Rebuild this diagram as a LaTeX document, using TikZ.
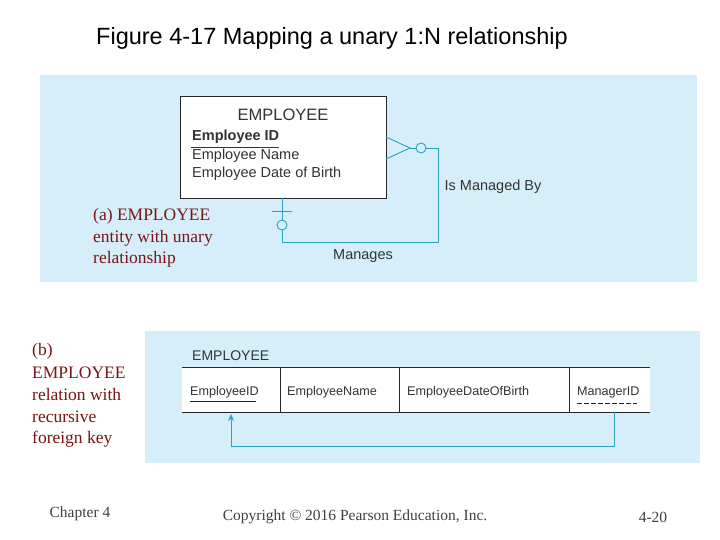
\documentclass[tikz,border=0pt]{standalone}
\usepackage{fontspec}
\usetikzlibrary{arrows.meta}
\setmainfont{Liberation Serif}
\setsansfont{Liberation Sans}
\begin{document}
\begin{tikzpicture}[x=1pt,y=-1pt,
  conn/.style={draw=teal2,line width=0.9pt},
  attr/.style={font=\sffamily\fontsize{14.5}{16}\selectfont,text=black!80,anchor=west,inner sep=0},
  tab/.style={font=\sffamily\fontsize{12.6}{14}\selectfont,text=black!80,anchor=west,inner sep=0},
  captxt/.style={font=\fontsize{17.5}{20}\selectfont,text=capred,anchor=west,inner sep=0},
  foot/.style={font=\fontsize{15.5}{18}\selectfont,text=black!75,inner sep=0}]
\definecolor{panelblue}{HTML}{D6EEF9}
\definecolor{teal2}{HTML}{2BA3BF}
\definecolor{capred}{HTML}{7A1515}
\useasboundingbox (0,0) rectangle (720,540);
\fill[white] (0,0) rectangle (720,540);
\node[font=\sffamily\fontsize{23.5}{26}\selectfont] (title) at (332,38) {Figure 4-17 Mapping a unary 1:N relationship};
% panel a
\fill[panelblue] (40,75) rectangle (697,282);
\node[draw=black!85,fill=white,line width=0.8pt,minimum width=206pt,minimum height=102pt,inner sep=0,anchor=north west] (ent) at (180,96) {};
\node[font=\sffamily\fontsize{16.5}{18}\selectfont,text=black!80] (et) at (283,115) {EMPLOYEE};
\node[attr,font=\sffamily\bfseries\fontsize{14.5}{16}\selectfont] (a1) at (192,137) {Employee ID};
\draw[black!80,line width=0.8pt] (191,147) -- (a1.south east|-0,147);
\node[attr] (a2) at (192,156) {Employee Name};
\node[attr] (a3) at (192,174) {Employee Date of Birth};
\coordinate (cf) at (410,148);
\draw[conn] (386,137) -- (cf) -- (386,159);
\draw[conn] (cf) -- (416,148);
\draw[conn] (421,148) circle (5);
\draw[conn] (426,148) -- (438,148) -- (438,242) -- (282,242) -- (282,230);
\draw[conn] (282,220) -- (282,198);
\draw[conn] (282,225) circle (5);
\draw[conn] (272,211) -- (292,211);
\node[attr,anchor=center] (imb) at (493,187) {Is Managed By};
\node[attr,anchor=center] (mg) at (363,256) {Manages};
\node[captxt] (ca1) at (93,216) {(a) EMPLOYEE};
\node[captxt] (ca2) at (93,238) {entity with unary};
\node[captxt] (ca3) at (93,259) {relationship};
% panel b
\fill[panelblue] (145,331) rectangle (700,463);
\node[attr,font=\sffamily\fontsize{14}{16}\selectfont] (rt) at (192,356) {EMPLOYEE};
\fill[white] (182,367) rectangle (650,412);
\draw[black!85,line width=0.8pt] (182,367) -- (650,367) (182,412) -- (650,412)
  (280,367) -- (280,412) (399,367) -- (399,412) (569,367) -- (569,412);
\node[tab] (c1) at (190,392) {EmployeeID};
\draw[black!85,line width=0.6pt] (190,401) -- (256,401);
\node[tab] (c2) at (287,392) {EmployeeName};
\node[tab] (c3) at (407,392) {EmployeeDateOfBirth};
\node[tab] (c4) at (577,392) {ManagerID};
\draw[black!85,line width=0.6pt,dash pattern=on 5pt off 2pt] (577,403) -- (637,403);
\draw[conn,-{Stealth[length=7pt,width=6pt]}] (614,412) -- (614,446) -- (231,446) -- (231,414);
\node[captxt] (cb1) at (32,351) {(b)};
\node[captxt] (cb2) at (32,373) {EMPLOYEE};
\node[captxt] (cb3) at (32,395) {relation with};
\node[captxt] (cb4) at (32,417) {recursive};
\node[captxt] (cb5) at (32,439) {foreign key};
\node[foot] (f1) at (80,514) {Chapter 4};
\node[foot] (f2) at (355,517) {Copyright © 2016 Pearson Education, Inc.};
\node[foot] (f3) at (653,517) {4-20};
\end{tikzpicture}
\end{document}
